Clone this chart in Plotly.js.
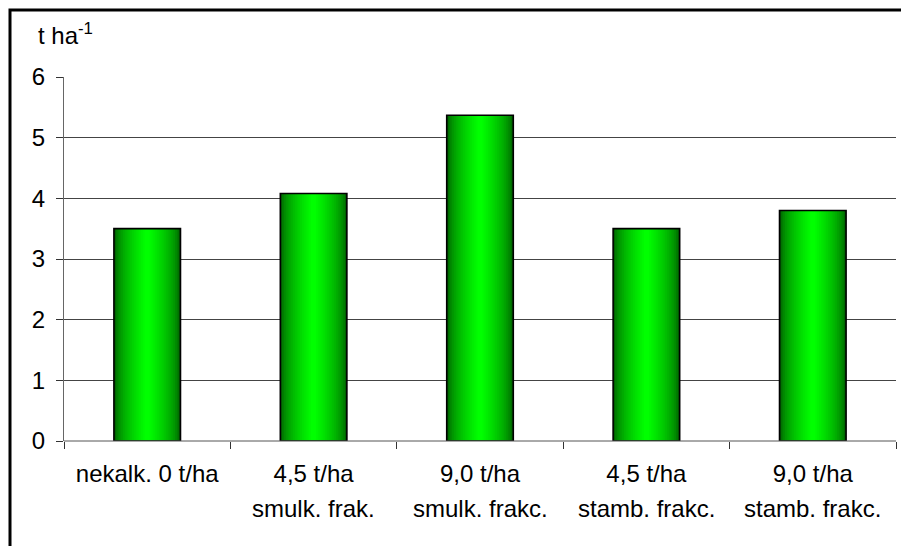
<!DOCTYPE html>
<html>
<head>
<meta charset="utf-8">
<script src="https://cdn.plot.ly/plotly-3.0.1.min.js"></script>
<style>html,body{margin:0;padding:0;background:#fff;}#chart{width:901px;height:546px;}</style>
</head>
<body>
<div id="chart"></div>
<script>
// ---- data ----
var labelLine1 = ["nekalk. 0 t/ha", "4,5 t/ha", "9,0 t/ha", "4,5 t/ha", "9,0 t/ha"];
var labelLine2 = ["", "smulk. frak.", "smulk. frakc.", "stamb. frakc.", "stamb. frakc."];
var yields = [3.5, 4.08, 5.37, 3.5, 3.8];
var yTicks = [0, 1, 2, 3, 4, 5, 6];
var unitTitle = "t ha<sup>-1</sup>";

// ---- gradient bars (overlay layers) ----
var FONT = "Liberation Sans, Arial, sans-serif";
var FS = 24;
var barW = 0.4, L = -0.2, R = 0.2, C = 0.0;
var N = 18;
var traces = [];
var xIdx = labelLine1.map(function (d, k) { return k; });
var boundaries = [-0.5].concat(xIdx.map(function (k) { return k + 0.5; }));
function lerp(a, b, t) { return a + (b - a) * t; }
for (var i = 0; i < N; i++) {
  var t = i / (N - 1);
  var left = lerp(L, C - 0.015, t);
  var right = lerp(R, C + 0.015, t);
  var g = Math.round(lerp(95, 255, Math.pow(t, 0.6)));
  traces.push({
    type: "bar",
    x: xIdx,
    y: yields,
    offset: left,
    width: right - left,
    marker: { color: "rgb(0," + g + ",0)", line: { width: 0 } },
    hoverinfo: "skip",
    showlegend: false
  });
}
// outline on top
traces.push({
  type: "bar",
  x: xIdx,
  y: yields,
  offset: L,
  width: barW,
  marker: { color: "rgba(0,0,0,0)", line: { width: 1.6, color: "#000" } },
  hoverinfo: "skip",
  showlegend: false
});

var annotations = [{
  text: unitTitle, xref: "paper", yref: "paper", x: -0.0335, y: 1.118,
  xanchor: "left", yanchor: "middle", showarrow: false,
  font: { family: FONT, size: FS, color: "#000" }
}];
labelLine2.forEach(function (s, k) {
  if (!s) return;
  annotations.push({
    text: s, xref: "x", yref: "paper", x: k, y: -0.186,
    xanchor: "center", yanchor: "middle", showarrow: false,
    font: { family: FONT, size: FS, color: "#000" }
  });
});

var layout = {
  width: 901, height: 546,
  margin: { l: 64, r: 5, t: 77, b: 105, pad: 0 },
  paper_bgcolor: "#fff", plot_bgcolor: "#fff",
  barmode: "overlay",
  font: { family: FONT, size: FS, color: "#000" },
  xaxis: {
    type: "linear",
    range: [-0.5, 4.5],
    tickmode: "array",
    tickvals: xIdx,
    ticktext: labelLine1,
    ticks: "", showgrid: false, zeroline: false,
    showline: false,
    tickfont: { family: FONT, size: FS, color: "#000" },
    ticklabelstandoff: 16,
    fixedrange: true
  },
  xaxis2: {
    overlaying: "x", range: [-0.5, 4.5], tickmode: "array",
    tickvals: boundaries, showticklabels: false,
    ticks: "outside", ticklen: 7, tickcolor: "#333", tickwidth: 1,
    showgrid: false, zeroline: false, showline: false, anchor: "y"
  },
  yaxis: {
    range: [0, 6],
    tickmode: "array", tickvals: yTicks,
    ticks: "outside", ticklen: 7, tickcolor: "#333", tickwidth: 1,
    showgrid: true, gridcolor: "#444", gridwidth: 1,
    zeroline: false,
    showline: true, linecolor: "#666", linewidth: 1,
    tickfont: { family: FONT, size: FS, color: "#000" },
    ticklabelstandoff: 6,
    fixedrange: true
  },
  shapes: [
    { type: "rect", xref: "paper", yref: "paper",
      x0: (10 - 64) / 832, x1: 1.2, y0: -0.5, y1: 1 + (77 - 10) / 364,
      line: { color: "#000", width: 3 }, fillcolor: "rgba(0,0,0,0)", layer: "above" },
    { type: "line", xref: "paper", yref: "paper", x0: 0, x1: 1, y0: 0, y1: 0,
      line: { color: "#555", width: 1 }, layer: "above" }
  ],
  annotations: annotations
};

traces.push({ type: "scatter", x: [0], y: [0], xaxis: "x2", mode: "markers",
  marker: { opacity: 0 }, hoverinfo: "skip", showlegend: false });

Plotly.newPlot("chart", traces, layout, { displayModeBar: false, staticPlot: true });
</script>
</body>
</html>
